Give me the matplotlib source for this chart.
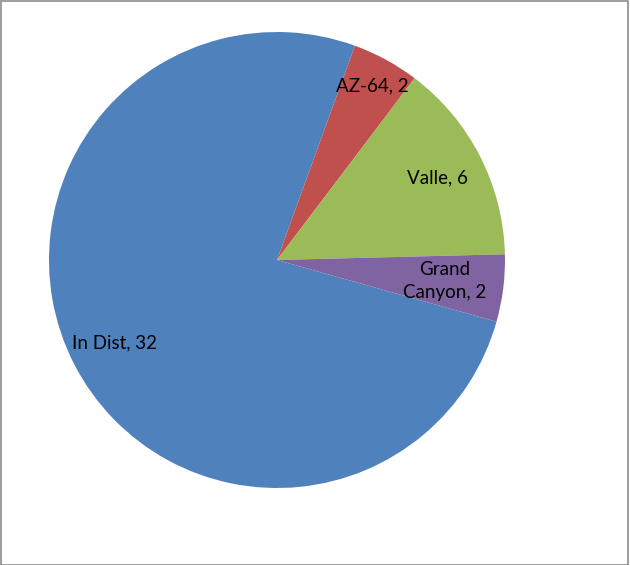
import matplotlib.pyplot as plt
from matplotlib.patches import Rectangle
import numpy as np

# slice data
labels = ['In Dist', 'AZ-64', 'Valle', 'Grand\nCanyon']
values = [32, 2, 6, 2]
colors = ['#4F81BD', '#C0504D', '#9BBB59', '#8064A2']
label_dist = [0.80, 0.87, 0.79, 0.74]

plt.rcParams['font.family'] = ['Lato', 'DejaVu Sans']

fig = plt.figure(figsize=(6.3, 5.65), dpi=100, facecolor='w')
ax = fig.add_axes([49 / 630, 77 / 565, 456 / 630, 456 / 565])

wedges, _ = ax.pie(values, colors=colors, startangle=-15.7, counterclock=False,
                   radius=1, wedgeprops=dict(linewidth=0))

for w, lab, v, d in zip(wedges, labels, values, label_dist):
    ang = np.deg2rad((w.theta1 + w.theta2) / 2)
    ax.text(d * np.cos(ang), d * np.sin(ang), '{}, {}'.format(lab, v),
            ha='center', va='center', fontsize=13.5, color='black',
            linespacing=1.45)

ax.set_xlim(-1, 1)
ax.set_ylim(-1, 1)
ax.set_aspect('equal')
ax.axis('off')

# chart frame
fig.patches.append(Rectangle((0.5 / 630, 0.5 / 565), 627 / 630, 564 / 565,
                             transform=fig.transFigure, fill=False,
                             edgecolor='#8c8c8c', linewidth=1.2))

plt.savefig('out.png', dpi=100)
